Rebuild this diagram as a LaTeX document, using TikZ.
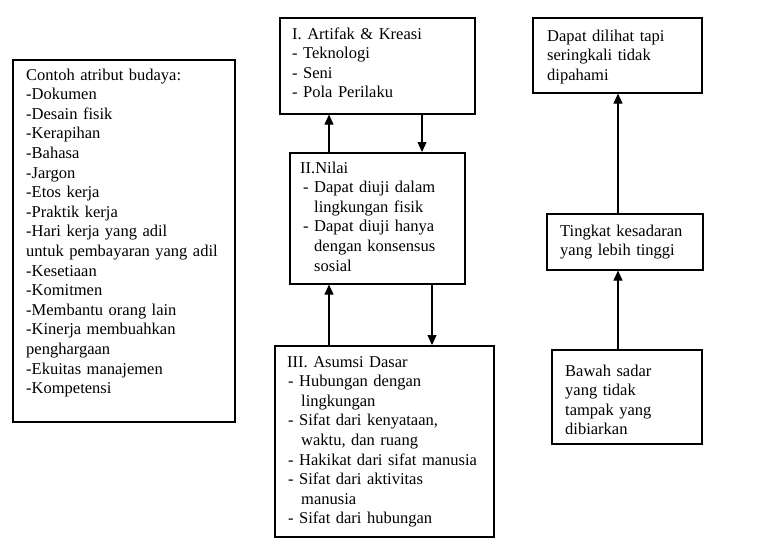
\documentclass[tikz,border=0pt]{standalone}
\usepackage{fontspec}
\setmainfont{Liberation Serif}
\usetikzlibrary{arrows.meta}
\begin{document}
\begin{tikzpicture}[x=1pt,y=-1pt,
  box/.style={draw, line width=1.6pt, inner sep=0pt, anchor=north west},
  txt/.style={anchor=base west, inner sep=0pt, text width=#1, align=left,
    font=\fontsize{16.5}{19.6}\selectfont},
  txt/.default=220pt,
  arr/.style={line width=1.1pt, -{Triangle[length=10pt,width=9pt]}}]
\useasboundingbox (0,0) rectangle (764,558);
% boxes
\node[box, minimum width=222pt, minimum height=362pt] (attr) at (12,59) {};
\node[box, minimum width=195pt, minimum height=96pt] (b1) at (279,17) {};
\node[box, minimum width=175pt, minimum height=131pt] (b2) at (289,152) {};
\node[box, minimum width=219pt, minimum height=191pt] (b3) at (274,345) {};
\node[box, minimum width=169pt, minimum height=75pt] (r1) at (532,17) {};
\node[box, minimum width=156pt, minimum height=56pt] (r2) at (546,213) {};
\node[box, minimum width=150pt, minimum height=94pt] (r3) at (551,349) {};
% texts
\node[txt] (attrtxt) at (26,80) {Contoh atribut budaya:\\-Dokumen\\-Desain fisik\\-Kerapihan\\-Bahasa\\-Jargon\\-Etos kerja\\-Praktik kerja\\-Hari kerja yang adil\\untuk pembayaran yang adil\\-Kesetiaan\\-Komitmen\\-Membantu orang lain\\-Kinerja membuahkan\\penghargaan\\-Ekuitas manajemen\\-Kompetensi};
\node[txt] (b1txt) at (292,39) {I. Artifak \& Kreasi\\- Teknologi\\- Seni\\- Pola Perilaku};
\node[txt] (b2txt) at (300,173) {II.Nilai\\\hspace*{3pt}- Dapat diuji dalam\\\hspace*{14pt}lingkungan fisik\\\hspace*{3pt}- Dapat diuji hanya\\\hspace*{14pt}dengan konsensus\\\hspace*{14pt}sosial};
\node[txt] (b3txt) at (287,367) {III. Asumsi Dasar\\\hspace*{1pt}- Hubungan dengan\\\hspace*{14pt}lingkungan\\\hspace*{1pt}- Sifat dari kenyataan,\\\hspace*{14pt}waktu, dan ruang\\\hspace*{1pt}- Hakikat dari sifat manusia\\\hspace*{1pt}- Sifat dari aktivitas\\\hspace*{14pt}manusia\\\hspace*{1pt}- Sifat dari hubungan};
\node[txt] (r1txt) at (547,41) {Dapat dilihat tapi\\seringkali tidak\\dipahami};
\node[txt] (r2txt) at (560,236) {Tingkat kesadaran\\yang lebih tinggi};
\node[txt] (r3txt) at (565,376) {Bawah sadar\\yang tidak\\tampak yang\\dibiarkan};
% arrow x positions
\coordinate (xa) at (329,0);
\coordinate (xb) at (422,0);
\coordinate (xc) at (432,0);
\coordinate (xr) at (618,0);
\draw[arr] (b2.north -| xa) -- (b1.south -| xa);
\draw[arr] (b1.south -| xb) -- (b2.north -| xb);
\draw[arr] (b3.north -| xa) -- (b2.south -| xa);
\draw[arr] (b2.south -| xc) -- (b3.north -| xc);
\draw[arr] (r2.north -| xr) -- (r1.south -| xr);
\draw[arr] (r3.north -| xr) -- (r2.south -| xr);
\end{tikzpicture}
\end{document}
